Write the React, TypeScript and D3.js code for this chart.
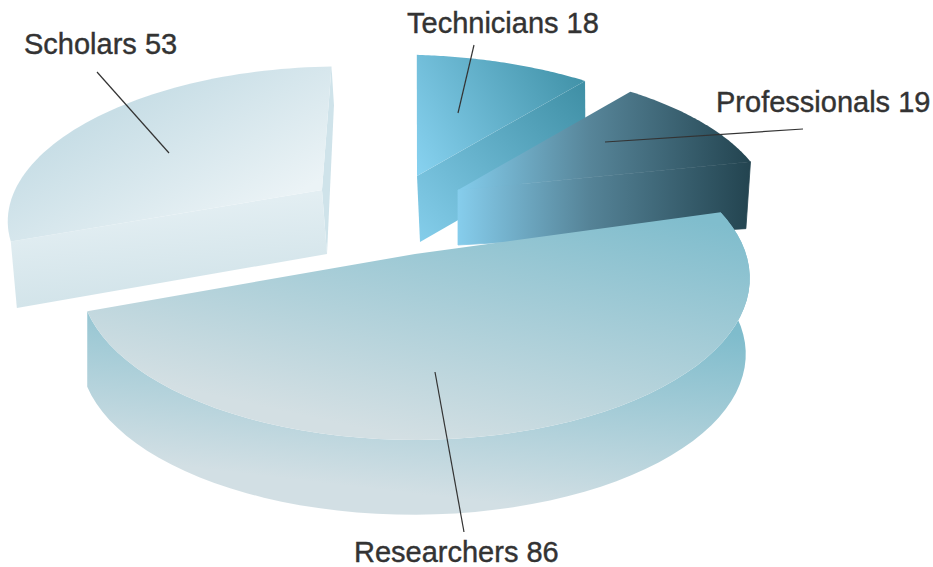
import * as d3 from "d3";

const WIDTH = 933;
const HEIGHT = 567;

// values, clockwise from the right hand corner of the big slice
const categories = ["Researchers", "Scholars", "Technicians", "Professionals"];
const values = [86, 53, 18, 19];

const START_ANGLE = (74 * Math.PI) / 180;
const PERSPECTIVE = 0.15;

interface Frame {
  cx: number;
  cy: number;
  rx: number;
  ry: number;
  skew: number;
  tilt: number;
}

// top and bottom plane of every exploded slice
const topFrames: Record<string, Frame> = {
  Researchers: { cx: 415, cy: 254, rx: 331, ry: 158, skew: 0, tilt: 0 },
  Scholars: { cx: 322, cy: 190, rx: 307, ry: 142, skew: -20, tilt: 0 },
  Technicians: { cx: 417, cy: 176, rx: 315, ry: 139, skew: -9, tilt: 12 },
  Professionals: { cx: 458, cy: 190, rx: 312, ry: 142, skew: -17, tilt: 10 },
};

const bottomFrames: Record<string, Frame> = {
  Researchers: { cx: 413, cy: 330, rx: 329, ry: 157, skew: 0, tilt: 0 },
  Scholars: { cx: 327, cy: 254, rx: 307, ry: 171, skew: -17, tilt: 8 },
  Technicians: { cx: 420, cy: 242, rx: 310, ry: 139, skew: -9, tilt: 12 },
  Professionals: { cx: 458, cy: 245, rx: 307, ry: 142, skew: -17, tilt: 23 },
};

const labels = [
  { text: "Scholars 53", x: 24, y: 54, from: [97, 72], to: [169, 153] },
  { text: "Technicians 18", x: 407, y: 33, from: [474, 45], to: [458, 113] },
  { text: "Professionals 19", x: 716, y: 112, from: [803, 129], to: [605, 142] },
  { text: "Researchers 86", x: 354, y: 562, from: [464, 532], to: [435, 372] },
];

const project = (f: Frame, angle: number): [number, number] => {
  const u = Math.sin(angle);
  const v = -Math.cos(angle);
  const s = 1 / (1 - PERSPECTIVE * v);
  return [f.cx + (f.rx * u + f.skew * v) * s, f.cy + (f.ry * v + f.tilt * u) * s];
};

const arcPoints = (f: Frame, a0: number, a1: number) =>
  d3.range(0, 61).map((i) => project(f, a0 + ((a1 - a0) * i) / 60));

const line = d3.line();

const slices = d3
  .pie<number>()
  .sort(null)
  .startAngle(START_ANGLE)
  .endAngle(START_ANGLE + 2 * Math.PI)(values);

const sliceOf = (name: string) => slices[categories.indexOf(name)];

const topPath = (name: string) => {
  const { startAngle, endAngle } = sliceOf(name);
  const f = topFrames[name];
  return line([[f.cx, f.cy], ...arcPoints(f, startAngle, endAngle)]) + "Z";
};

const outerWall = (name: string) => {
  const { startAngle, endAngle } = sliceOf(name);
  const t = arcPoints(topFrames[name], startAngle, endAngle);
  const b = arcPoints(bottomFrames[name], startAngle, endAngle);
  return line([...t, ...b.reverse()]) + "Z";
};

// flat cut face between the apex and the rim at the given angle
const cutFace = (name: string, angle: number) => {
  const t = topFrames[name];
  const b = bottomFrames[name];
  return line([[t.cx, t.cy], project(t, angle), project(b, angle), [b.cx, b.cy]]) + "Z";
};

const Gradient = ({
  id,
  p,
  stops,
}: {
  id: string;
  p: [number, number, number, number];
  stops: [number, string][];
}) => (
  <linearGradient id={id} gradientUnits="userSpaceOnUse" x1={p[0]} y1={p[1]} x2={p[2]} y2={p[3]}>
    {stops.map(([o, c]) => (
      <stop key={o} offset={o} stopColor={c} />
    ))}
  </linearGradient>
);

export default function App() {
  const sch = sliceOf("Scholars");
  const tec = sliceOf("Technicians");
  const pro = sliceOf("Professionals");

  return (
    <svg
      width={WIDTH}
      height={HEIGHT}
      viewBox={`0 0 ${WIDTH} ${HEIGHT}`}
      style={{ position: "absolute", left: 0, top: 0, background: "#fff" }}
    >
      <defs>
        <Gradient id="resTop" p={[720, 225, 660, 495]} stops={[[0, "#80bdcd"], [1, "#d3dfe3"]]} />
        <Gradient id="resWall" p={[745, 335, 722, 530]} stops={[[0, "#7fbccc"], [1, "#d2dfe4"]]} />
        <Gradient id="schTop" p={[170, 80, 250, 220]} stops={[[0, "#c8dee6"], [1, "#ebf3f6"]]} />
        <Gradient id="schCut" p={[170, 200, 180, 300]} stops={[[0, "#e4eff3"], [1, "#d1e3e9"]]} />
        <Gradient id="tecTop" p={[417, 175, 585, 80]} stops={[[0, "#88d2f0"], [1, "#4192a8"]]} />
        <Gradient id="tecCut" p={[420, 240, 585, 90]} stops={[[0, "#84cdea"], [1, "#4090a6"]]} />
        <Gradient id="proTop" p={[458, 0, 750, 0]} stops={[[0, "#84cdec"], [0.45, "#578599"], [1, "#234450"]]} />
        <Gradient id="proCut" p={[458, 0, 750, 0]} stops={[[0, "#86cdec"], [0.45, "#558397"], [1, "#234450"]]} />
      </defs>

      {/* back to front, the big slice covers the bottom of the others */}
      <g>
        <path d={cutFace("Technicians", tec.endAngle)} fill="url(#tecCut)" />
        <path d={topPath("Technicians")} fill="url(#tecTop)" />
      </g>
      <g>
        {/* thin stroke closes the light seam along the shared edge */}
        <path d={cutFace("Professionals", pro.endAngle)} fill="url(#proCut)" stroke="url(#proCut)" strokeWidth={0.8} />
        <path d={topPath("Professionals")} fill="url(#proTop)" />
      </g>
      <g>
        <path d={cutFace("Scholars", sch.endAngle)} fill="#cfe3ea" />
        <path d={cutFace("Scholars", sch.startAngle)} fill="url(#schCut)" />
        <path d={topPath("Scholars")} fill="url(#schTop)" />
      </g>
      <g>
        <path d={outerWall("Researchers")} fill="url(#resWall)" />
        <path d={topPath("Researchers")} fill="url(#resTop)" />
      </g>

      {labels.map((l) => (
        <g key={l.text}>
          <line x1={l.from[0]} y1={l.from[1]} x2={l.to[0]} y2={l.to[1]} stroke="#333" strokeWidth={1.2} />
          <text
            x={l.x}
            y={l.y}
            fontFamily="'Liberation Sans', Arial, sans-serif"
            fontSize={29}
            fill="#333"
            stroke="#333"
            strokeWidth={0.4}
          >
            {l.text}
          </text>
        </g>
      ))}
    </svg>
  );
}
